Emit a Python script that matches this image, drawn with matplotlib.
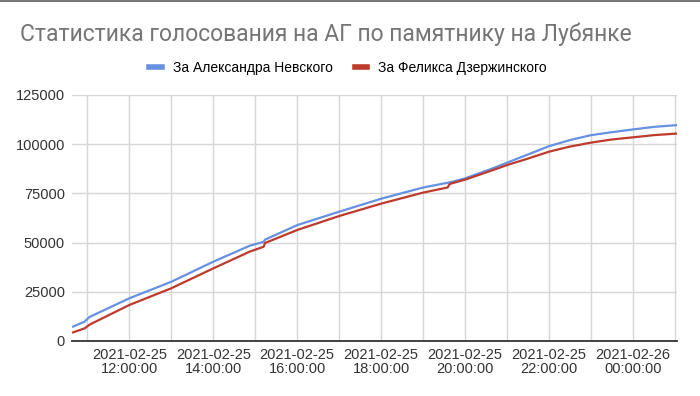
import matplotlib
matplotlib.use("Agg")
import matplotlib.pyplot as plt
import matplotlib.dates as mdates
import pandas as pd
from matplotlib.lines import Line2D

title = "Статистика голосования на АГ по памятнику на Лубянке"
series_names = ["За Александра Невского", "За Феликса Дзержинского"]
times = ["2021-02-25 10:38", "2021-02-25 10:56", "2021-02-25 11:03", "2021-02-25 12:00",
         "2021-02-25 13:00", "2021-02-25 14:00", "2021-02-25 14:52", "2021-02-25 15:12",
         "2021-02-25 15:14", "2021-02-25 16:00", "2021-02-25 17:00", "2021-02-25 18:00",
         "2021-02-25 19:00", "2021-02-25 19:35", "2021-02-25 19:38", "2021-02-25 20:00",
         "2021-02-25 20:37", "2021-02-25 21:00", "2021-02-25 21:30", "2021-02-25 22:00",
         "2021-02-25 22:30", "2021-02-25 23:00", "2021-02-25 23:30", "2021-02-26 00:00",
         "2021-02-26 00:30", "2021-02-26 01:03"]
nevsky = [7100, 9800, 12200, 21700, 30100, 40300, 48400, 50400, 51500, 58900, 65700,
          72300, 78000, 80400, 80600, 82600, 87400, 90600, 94800, 99000,
          102100, 104600, 106100, 107500, 108800, 109700]
dzerzh = [4200, 6400, 8300, 18300, 26800, 36900, 45400, 47900, 49800, 56400, 63500,
          69800, 75400, 78000, 79800, 82000, 86500, 89400, 92700, 96200,
          98800, 100800, 102400, 103500, 104600, 105400]
y_ticks = [0, 25000, 50000, 75000, 100000, 125000]
colors = ["#6690e2", "#bd3a2c"]

t = pd.to_datetime(times)

fig = plt.figure(figsize=(7, 3.96), dpi=100)
ax = fig.add_axes([72/700, 1-341/396, (677-72)/700, (341-95)/396])

ax.plot(t, nevsky, color=colors[0], lw=1.6, solid_capstyle="butt", zorder=3)
ax.plot(t, dzerzh, color=colors[1], lw=1.6, solid_capstyle="butt", zorder=3)

ax.set_xlim(t[0], t[-1])
ax.set_ylim(0, 125000)
ax.set_yticks(y_ticks)
ax.set_yticklabels([str(v) for v in y_ticks], fontsize=10.5, color="#333333",
                   family=["Liberation Sans", "DejaVu Sans"])

ax.xaxis.set_minor_locator(mdates.HourLocator(interval=1))
ax.xaxis.set_major_locator(mdates.HourLocator(byhour=[0, 12, 14, 16, 18, 20, 22]))
ax.xaxis.set_major_formatter(mdates.DateFormatter("%Y-%m-%d\n%H:%M:%S"))
for lab in ax.get_xticklabels():
    lab.set_fontsize(10.5)
    lab.set_color("#333333")
    lab.set_family(["Liberation Sans", "DejaVu Sans"])
    lab.set_linespacing(1.05)

ax.tick_params(axis="both", which="both", length=0)
ax.tick_params(axis="y", pad=5)
ax.tick_params(axis="x", pad=5)
ax.grid(True, which="both", axis="x", color="#d6d6d6", lw=1)
ax.grid(True, which="major", axis="y", color="#d6d6d6", lw=1)
ax.set_axisbelow(True)
for s in ["top", "right", "left"]:
    ax.spines[s].set_visible(False)
ax.spines["bottom"].set_color("#333333")
ax.spines["bottom"].set_linewidth(1.3)
ax.spines["bottom"].set_zorder(4)

fig.text(20/700, 1-34/396, title, fontsize=16.5, color="#757575", va="center", ha="left",
         family=["Roboto", "DejaVu Sans"])

handles = [Line2D([], [], color=c, lw=4) for c in colors]
fig.legend(handles, series_names, loc="center", bbox_to_anchor=(348/700, 1-68/396),
           ncol=2, frameon=False, handlelength=0.9, handletextpad=0.8,
           columnspacing=1.6, prop={"family": ["Liberation Sans", "DejaVu Sans"], "size": 10})

fig.add_artist(Line2D([0, 1], [1-1/396, 1-1/396], transform=fig.transFigure,
                      color="#777777", lw=1.5))

fig.savefig("out.png", dpi=100, facecolor="white")
